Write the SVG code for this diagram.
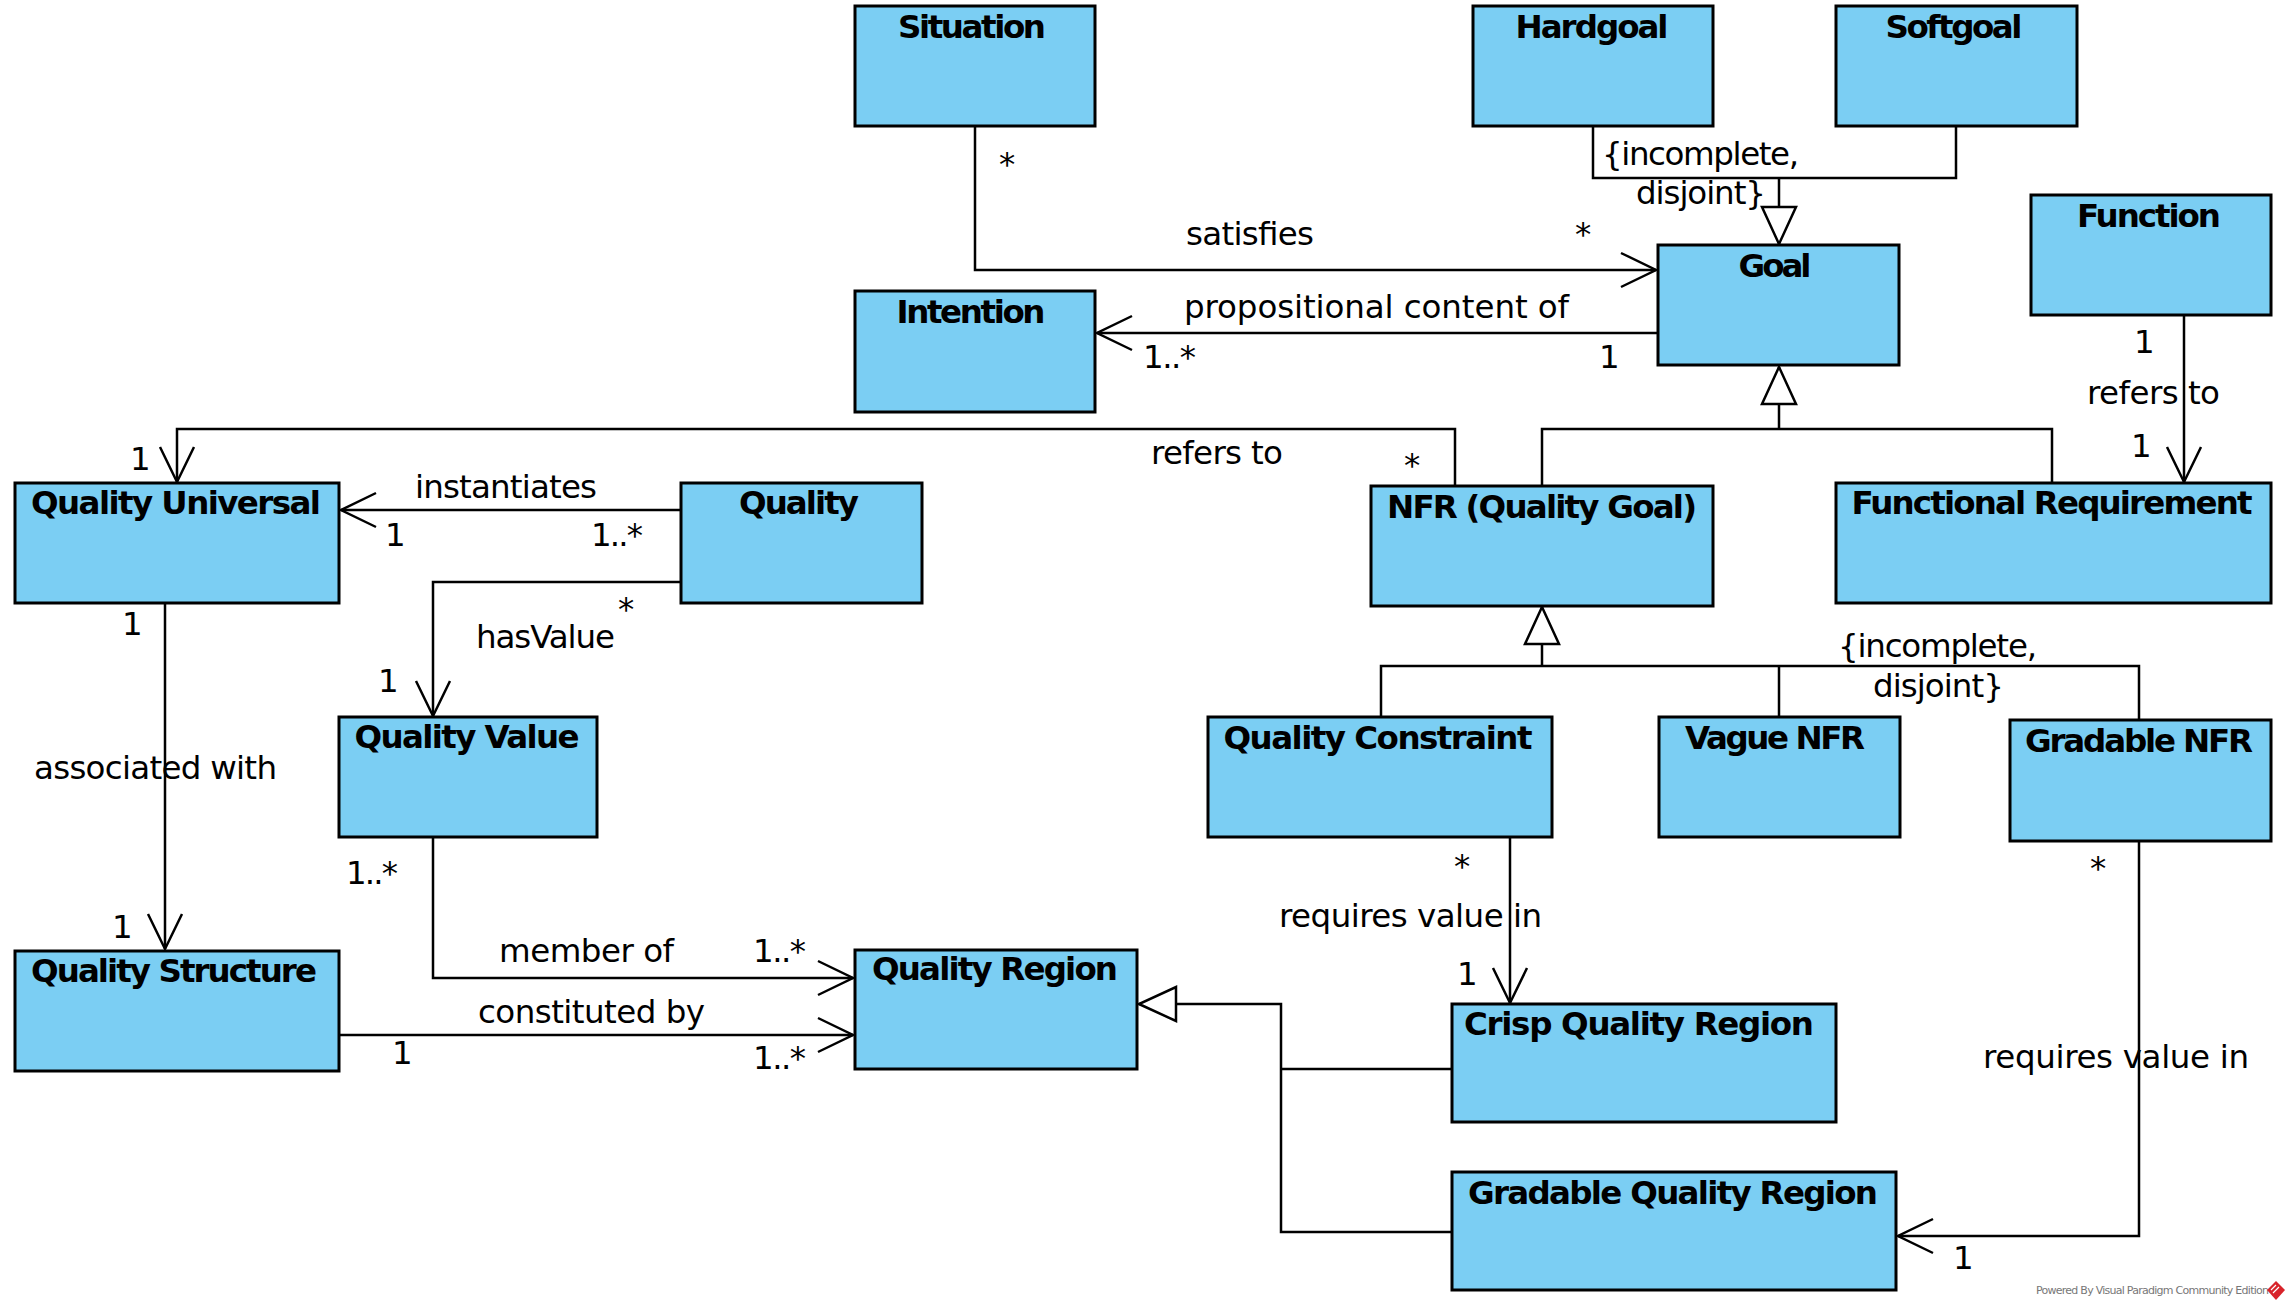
<svg xmlns="http://www.w3.org/2000/svg" width="2292" height="1308" viewBox="0 0 2292 1308">
<style>
.box{fill:#7BCEF3;stroke:#000;stroke-width:3}
.t{font-family:"DejaVu Sans","Liberation Sans",sans-serif;font-weight:bold;font-size:32.5px;fill:#000;text-anchor:middle}
.l{font-family:"DejaVu Sans","Liberation Sans",sans-serif;font-size:32.5px;fill:#000}
.m{text-anchor:middle}
.c{fill:none;stroke:#000;stroke-width:2.5}
.pw{font-family:"DejaVu Sans","Liberation Sans",sans-serif;font-size:11px;fill:#777}
</style>
<defs>
<marker id="open" markerUnits="userSpaceOnUse" markerWidth="40" markerHeight="40" viewBox="-38 -20 40 40" refX="0" refY="0" orient="auto" overflow="visible">
<path d="M-35,-17 L0,0 L-35,17" fill="none" stroke="#000" stroke-width="2.5"/>
</marker>
<marker id="gen" markerUnits="userSpaceOnUse" markerWidth="40" markerHeight="40" viewBox="-38 -20 40 40" refX="0" refY="0" orient="auto" overflow="visible">
<path d="M0,0 L-37,-17 L-37,17 Z" fill="#fff" stroke="#000" stroke-width="2.5"/>
</marker>
</defs>
<rect width="2292" height="1308" fill="#fff"/>

<g id="connectors">
<path class="c" d="M975,126 V270 H1656" marker-end="url(#open)"/>
<path class="c" d="M1658,333 H1097" marker-end="url(#open)"/>
<path class="c" d="M1593,126 V178 H1956 V126"/>
<path class="c" d="M1779,178 V244" marker-end="url(#gen)"/>
<path class="c" d="M1542,486 V429 H2052 V483"/>
<path class="c" d="M1779,429 V367" marker-end="url(#gen)"/>
<path class="c" d="M2184,315 V482" marker-end="url(#open)"/>
<path class="c" d="M1455,486 V429 H177 V482" marker-end="url(#open)"/>
<path class="c" d="M681,510 H341" marker-end="url(#open)"/>
<path class="c" d="M681,582 H433 V716" marker-end="url(#open)"/>
<path class="c" d="M165,603 V949" marker-end="url(#open)"/>
<path class="c" d="M433,837 V978 H853" marker-end="url(#open)"/>
<path class="c" d="M339,1035 H853" marker-end="url(#open)"/>
<path class="c" d="M1452,1069 H1281"/>
<path class="c" d="M1452,1232 H1281 V1004 H1139" marker-end="url(#gen)"/>
<path class="c" d="M1381,717 V666 H2139 V720"/>
<path class="c" d="M1779,666 V717"/>
<path class="c" d="M1542,666 V607" marker-end="url(#gen)"/>
<path class="c" d="M1510,837 V1003" marker-end="url(#open)"/>
<path class="c" d="M2139,841 V1236 H1898" marker-end="url(#open)"/>

<text class="l" x="1186" y="245" textLength="128">satisfies</text>
<text class="l m" x="1007" y="175">*</text>
<text class="l m" x="1583" y="245">*</text>
<text class="l" x="1184" y="318" textLength="385">propositional content of</text>
<text class="l" x="1143" y="368" textLength="53">1..*</text>
<text class="l" x="1599" y="368">1</text>
<text class="l" x="1602" y="165" textLength="197">{incomplete,</text>
<text class="l" x="1636" y="204" textLength="130">disjoint}</text>
<text class="l" x="2134" y="353">1</text>
<text class="l" x="2087" y="404" textLength="133">refers to</text>
<text class="l" x="2131" y="457">1</text>
<text class="l" x="1151" y="464" textLength="132">refers to</text>
<text class="l m" x="1412" y="476">*</text>
<text class="l" x="130" y="470">1</text>
<text class="l" x="415" y="498" textLength="182">instantiates</text>
<text class="l" x="385" y="546">1</text>
<text class="l" x="591" y="546" textLength="52">1..*</text>
<text class="l m" x="626" y="620">*</text>
<text class="l" x="476" y="648" textLength="139">hasValue</text>
<text class="l" x="378" y="692">1</text>
<text class="l" x="122" y="635">1</text>
<text class="l" x="34" y="779" textLength="243">associated with</text>
<text class="l" x="112" y="938">1</text>
<text class="l" x="346" y="884" textLength="52">1..*</text>
<text class="l" x="499" y="962" textLength="175">member of</text>
<text class="l" x="753" y="962" textLength="53">1..*</text>
<text class="l" x="478" y="1023" textLength="227">constituted by</text>
<text class="l" x="392" y="1064">1</text>
<text class="l" x="753" y="1069" textLength="53">1..*</text>
<text class="l m" x="1462" y="877">*</text>
<text class="l" x="1279" y="927" textLength="263">requires value in</text>
<text class="l" x="1457" y="985">1</text>
<text class="l" x="1838" y="657" textLength="199">{incomplete,</text>
<text class="l" x="1873" y="697" textLength="131">disjoint}</text>
<text class="l m" x="2098" y="879">*</text>
<text class="l" x="1983" y="1068" textLength="266">requires value in</text>
<text class="l" x="1953" y="1269">1</text>
</g>

<g id="situation"><rect class="box" x="855" y="6" width="240" height="120"/><text class="t" x="972" y="38" textLength="148">Situation</text></g>
<g id="hardgoal"><rect class="box" x="1473" y="6" width="240" height="120"/><text class="t" x="1592" y="38" textLength="153">Hardgoal</text></g>
<g id="softgoal"><rect class="box" x="1836" y="6" width="241" height="120"/><text class="t" x="1954" y="38" textLength="137">Softgoal</text></g>
<g id="function"><rect class="box" x="2031" y="195" width="240" height="120"/><text class="t" x="2149" y="227" textLength="144">Function</text></g>
<g id="goal"><rect class="box" x="1658" y="245" width="241" height="120"/><text class="t" x="1775" y="277" textLength="73">Goal</text></g>
<g id="intention"><rect class="box" x="855" y="291" width="240" height="121"/><text class="t" x="971" y="323" textLength="149">Intention</text></g>
<g id="quality-universal"><rect class="box" x="15" y="483" width="324" height="120"/><text class="t" x="176" y="514" textLength="290">Quality Universal</text></g>
<g id="quality"><rect class="box" x="681" y="483" width="241" height="120"/><text class="t" x="799" y="514" textLength="120">Quality</text></g>
<g id="nfr"><rect class="box" x="1371" y="486" width="342" height="120"/><text class="t" x="1542" y="518" textLength="310">NFR (Quality Goal)</text></g>
<g id="functional-requirement"><rect class="box" x="1836" y="483" width="435" height="120"/><text class="t" x="2052" y="514" textLength="401">Functional Requirement</text></g>
<g id="quality-value"><rect class="box" x="339" y="717" width="258" height="120"/><text class="t" x="467" y="748" textLength="225">Quality Value</text></g>
<g id="quality-constraint"><rect class="box" x="1208" y="717" width="344" height="120"/><text class="t" x="1378" y="749" textLength="309">Quality Constraint</text></g>
<g id="vague-nfr"><rect class="box" x="1659" y="717" width="241" height="120"/><text class="t" x="1775" y="749" textLength="180">Vague NFR</text></g>
<g id="gradable-nfr"><rect class="box" x="2010" y="720" width="261" height="121"/><text class="t" x="2139" y="752" textLength="228">Gradable NFR</text></g>
<g id="quality-structure"><rect class="box" x="15" y="951" width="324" height="120"/><text class="t" x="174" y="982" textLength="286">Quality Structure</text></g>
<g id="quality-region"><rect class="box" x="855" y="950" width="282" height="119"/><text class="t" x="995" y="980" textLength="246">Quality Region</text></g>
<g id="crisp-quality-region"><rect class="box" x="1452" y="1004" width="384" height="118"/><text class="t" x="1639" y="1035" textLength="350">Crisp Quality Region</text></g>
<g id="gradable-quality-region"><rect class="box" x="1452" y="1172" width="444" height="118"/><text class="t" x="1673" y="1204" textLength="410">Gradable Quality Region</text></g>

<text class="pw" x="2036" y="1294" textLength="233">Powered By Visual Paradigm Community Edition</text>
<polygon points="2276,1281 2285,1290 2276,1300 2267,1290" fill="#d8232a"/>
<path d="M2271,1290 L2276,1285 M2273,1293 L2279,1287" stroke="#fff" stroke-width="1.2"/>
</svg>
